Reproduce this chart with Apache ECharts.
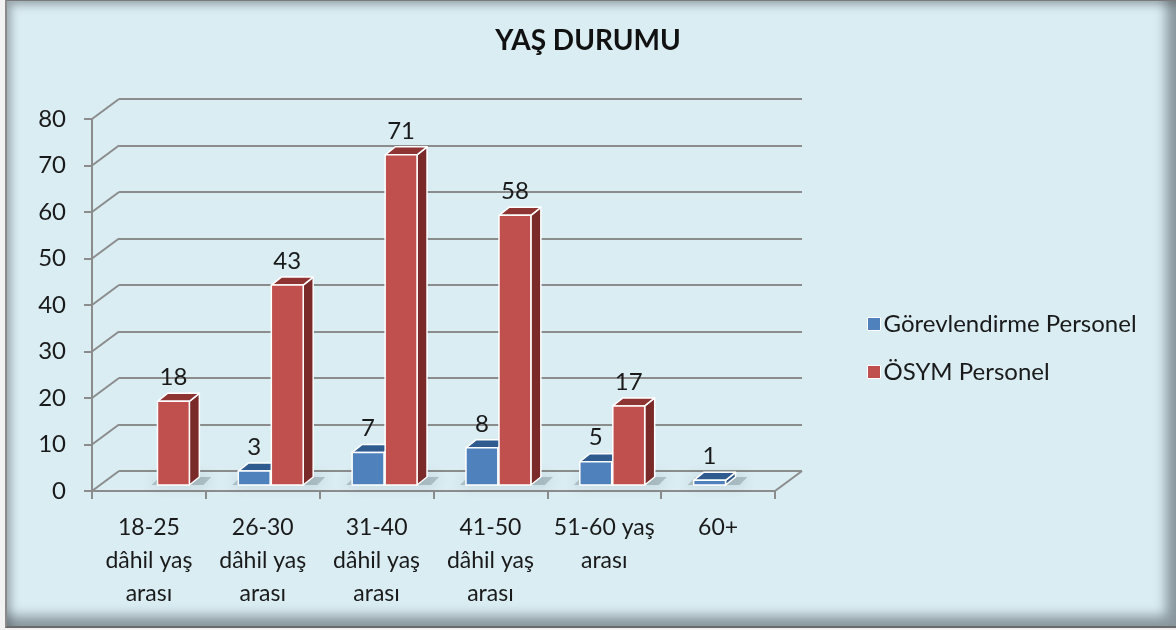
<!DOCTYPE html>
<html>
<head>
<meta charset="utf-8">
<script src="https://cdn.jsdelivr.net/npm/echarts@6/dist/echarts.min.js"></script>
<style>
  html, body { margin: 0; padding: 0; width: 1176px; height: 630px; overflow: hidden; background: #f2f2f2; }
  #frame { position: absolute; left: 5px; top: 0; width: 1171px; height: 628px; background: #DAEDF3;
    border-left: 2px solid #8a8a8a; border-top: 1px solid #7a7a7a; border-bottom: 2px solid #6a6a6a; box-sizing: border-box;
    box-shadow: inset -12px -12px 12px -2px rgba(70,80,85,0.55), inset 6px 6px 8px -2px rgba(70,80,85,0.45); }
  #chart { position: absolute; left: 0; top: 0; width: 1176px; height: 630px; }
</style>
</head>
<body>
<div id="frame"></div>
<div id="chart"></div>
<script>
// ---- data ----
const categories = ['18-25\ndâhil yaş\narası', '26-30\ndâhil yaş\narası', '31-40\ndâhil yaş\narası', '41-50\ndâhil yaş\narası', '51-60 yaş\narası', '60+'];
const gorevlendirme = [null, 3, 7, 8, 5, 1];
const osym = [18, 43, 71, 58, 17, null];
const yTicks = [0, 10, 20, 30, 40, 50, 60, 70, 80];
const seriesNames = ['Görevlendirme Personel', 'ÖSYM Personel'];

// ---- styling constants ----
const FONT = 'Lato, "Open Sans", sans-serif';
const GRID_COLOR = '#8c8c8c';
const DEPTH = [27, -20];      // back wall offset
const BAR_SHIFT = [8, -6];    // bar plane offset from front
const BAR_DEPTH = [10, -8];   // bar thickness
const BAR_W = 0.28;
const OFF = [-0.145, 0.145];
const COLORS = [
  { front: '#4F81BD', top: '#2F5B8F', side: '#35598A' },
  { front: '#C0504D', top: '#8E3533', side: '#7A2B29' }
];

function toData(arr) {
  const out = [];
  arr.forEach((v, i) => { if (v !== null && v !== undefined) out.push([i, v]); });
  return out;
}

function makeBar(k) {
  return function (params, api) {
    const i = api.value(0), v = api.value(1);
    const base = api.coord([i, 0]), tp = api.coord([i, v]);
    const bw = api.size([1, 0])[0];
    const w = bw * BAR_W;
    const cx = base[0] + OFF[k] * bw + BAR_SHIFT[0];
    const x0 = cx - w / 2, x1 = cx + w / 2;
    const y0 = tp[1] + BAR_SHIFT[1], y1 = base[1] + BAR_SHIFT[1];
    const dx = BAR_DEPTH[0], dy = BAR_DEPTH[1];
    const c = COLORS[k];
    const stroke = { stroke: '#ffffff', lineWidth: 1.5, lineJoin: 'round' };
    return {
      type: 'group',
      children: [
        { type: 'polygon', shape: { points: [[x1, y0], [x1 + dx, y0 + dy], [x1 + dx, y1 + dy], [x1, y1]] },
          style: Object.assign({ fill: c.side }, stroke) },
        { type: 'polygon', shape: { points: [[x0, y0], [x1, y0], [x1 + dx, y0 + dy], [x0 + dx, y0 + dy]] },
          style: Object.assign({ fill: c.top }, stroke) },
        { type: 'rect', shape: { x: x0, y: y0, width: w, height: y1 - y0 },
          style: Object.assign({ fill: c.front }, stroke) },
        { type: 'text', x: cx, y: y0 - 12,
          style: { text: String(v), align: 'center', verticalAlign: 'bottom', fill: '#1a1a1a', fontSize: 24, fontFamily: FONT } }
      ]
    };
  };
}

function shadowItem(params, api) {
  const i = api.value(0);
  const base = api.coord([i, 0]);
  const bw = api.size([1, 0])[0];
  const w = bw * BAR_W;
  const hasB = api.value(1) > 0, hasR = api.value(2) > 0;
  const left = base[0] + (hasB ? OFF[0] : OFF[1]) * bw + BAR_SHIFT[0] - w / 2;
  const right = base[0] + (hasR ? OFF[1] : OFF[0]) * bw + BAR_SHIFT[0] + w / 2 + BAR_DEPTH[0];
  const y = base[1] + BAR_SHIFT[1];
  return {
    type: 'polygon',
    shape: { points: [[left - 6, y], [right + 4, y], [right + 12, y + BAR_DEPTH[1]], [left + 2, y + BAR_DEPTH[1]]] },
    style: { fill: 'rgba(50,70,80,0.25)', shadowBlur: 14, shadowColor: 'rgba(40,60,70,0.75)' }
  };
}

function connectorItem(params, api) {
  const v = api.value(0);
  const p = api.coord([0, v]);
  const bw = api.size([1, 0])[0];
  const x = p[0] - bw / 2;
  const children = [
    { type: 'line', shape: { x1: x, y1: p[1], x2: x + DEPTH[0], y2: p[1] + DEPTH[1] },
      style: { stroke: GRID_COLOR, lineWidth: 2 } }
  ];
  if (v === 0) {
    const pr = api.coord([categories.length - 1, 0]);
    const xr = pr[0] + bw / 2;
    children.push({ type: 'line', shape: { x1: xr, y1: pr[1], x2: xr + DEPTH[0], y2: pr[1] + DEPTH[1] },
      style: { stroke: GRID_COLOR, lineWidth: 2 } });
  }
  return { type: 'group', children };
}

const chart = echarts.init(document.getElementById('chart'), null, { renderer: 'canvas' });
chart.setOption({
  backgroundColor: 'transparent',
  animation: false,
  title: {
    text: 'YAŞ DURUMU', left: 'center', top: 22,
    textStyle: { fontFamily: FONT, fontWeight: 'bold', fontSize: 28, color: '#111' }
  },
  legend: {
    data: seriesNames, orient: 'vertical', left: 862, top: 307,
    itemWidth: 13, itemHeight: 13, itemGap: 24, icon: 'rect',
    itemStyle: { borderColor: '#fff', borderWidth: 1 },
    textStyle: { fontFamily: FONT, fontSize: 24, color: '#1a1a1a', padding: [0, 0, 0, -2] }
  },
  grid: [
    { left: 92, right: 401, top: 119, bottom: 139 },
    { left: 119, right: 374, top: 99, bottom: 159 }
  ],
  xAxis: [
    { gridIndex: 0, type: 'category', data: categories,
      axisLine: { lineStyle: { color: GRID_COLOR, width: 2 } },
      axisTick: { show: true, length: 8, lineStyle: { color: GRID_COLOR, width: 2 } },
      axisLabel: { interval: 0, margin: 20, lineHeight: 33, fontSize: 23, fontFamily: FONT, color: '#1a1a1a' },
      splitLine: { show: false } },
    { gridIndex: 1, type: 'category', data: categories, show: false }
  ],
  yAxis: [
    { gridIndex: 0, type: 'value', min: 0, max: 80, interval: 10,
      axisLine: { show: true, lineStyle: { color: GRID_COLOR, width: 2 } },
      axisTick: { show: true, length: 8, lineStyle: { color: GRID_COLOR, width: 2 } },
      axisLabel: { margin: 26, fontSize: 24, fontFamily: FONT, color: '#1a1a1a' },
      splitLine: { show: false } },
    { gridIndex: 1, type: 'value', min: 0, max: 80, interval: 10,
      axisLine: { show: false }, axisTick: { show: false }, axisLabel: { show: false },
      splitLine: { show: true, lineStyle: { color: GRID_COLOR, width: 2 } } }
  ],
  series: [
    { type: 'custom', name: 'connectors', xAxisIndex: 0, yAxisIndex: 0, z: 1, silent: true,
      data: yTicks.map(v => [v]), renderItem: connectorItem, encode: { y: 0 } },
    { type: 'custom', name: 'shadow', xAxisIndex: 0, yAxisIndex: 0, z: 2, silent: true,
      data: categories.map((c, i) => [i, gorevlendirme[i] || 0, osym[i] || 0]),
      renderItem: shadowItem, encode: { x: 0, y: [1, 2] } },
    { type: 'custom', name: seriesNames[0], xAxisIndex: 0, yAxisIndex: 0, z: 3,
      itemStyle: { color: COLORS[0].front },
      data: toData(gorevlendirme), renderItem: makeBar(0), encode: { x: 0, y: 1 } },
    { type: 'custom', name: seriesNames[1], xAxisIndex: 0, yAxisIndex: 0, z: 4,
      itemStyle: { color: COLORS[1].front },
      data: toData(osym), renderItem: makeBar(1), encode: { x: 0, y: 1 } }
  ]
});
</script>
</body>
</html>
